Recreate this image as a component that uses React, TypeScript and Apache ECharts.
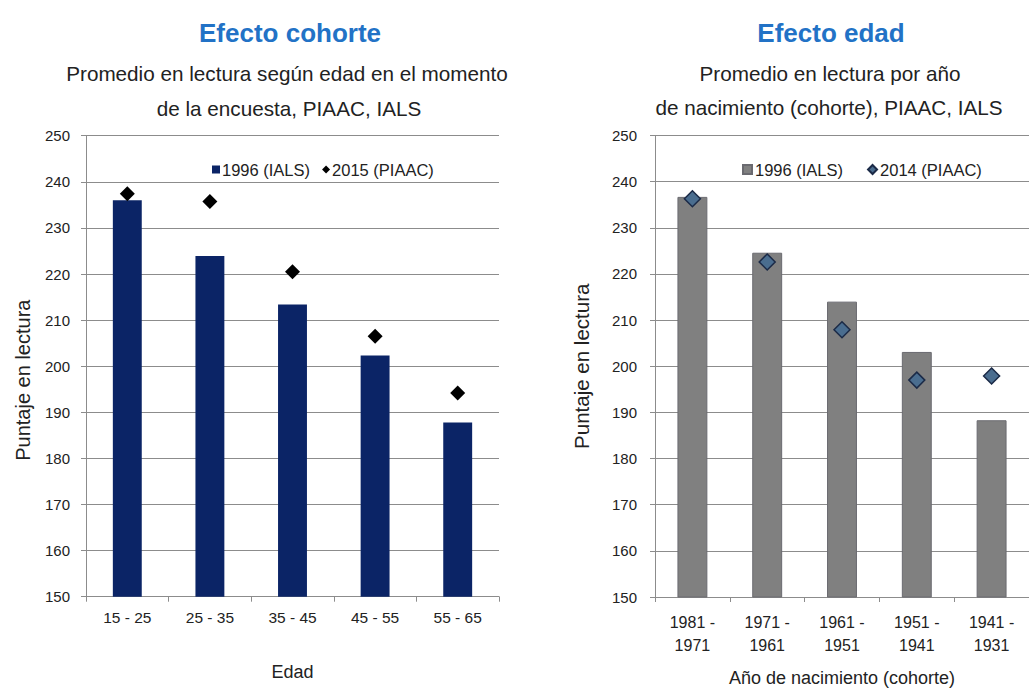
import React, { useEffect, useRef } from "react";
import * as echarts from "echarts";

// ---- Data ----
const ageGroups = ["15 - 25", "25 - 35", "35 - 45", "45 - 55", "55 - 65"];
const cohortIals1996 = [236.0, 223.9, 213.4, 202.3, 187.8];
const cohortPiaac2015 = [237.4, 235.7, 220.5, 206.5, 194.2];

const birthCohorts = ["1981 -\n1971", "1971 -\n1961", "1961 -\n1951", "1951 -\n1941", "1941 -\n1931"];
const ageIals1996 = [236.7, 224.6, 214.0, 203.1, 188.3];
const agePiaac2014 = [236.3, 222.6, 207.9, 197.0, 197.9];

const yTicksMin = 150;
const yTicksMax = 250;
const yTickStep = 10;

const FONT = "'Liberation Sans', Arial, sans-serif";

export default function App() {
  const ref = useRef<HTMLDivElement>(null);

  useEffect(() => {
    document.body.style.margin = "0";
    const chart = echarts.init(ref.current!, null, { renderer: "svg" });
    const gridColor = "#8c8c8c";
    const axisLabel = { color: "#222", fontSize: 15, fontFamily: FONT };
    const commonY = {
      type: "value",
      min: yTicksMin,
      max: yTicksMax,
      interval: yTickStep,
      nameLocation: "middle",
      axisLine: { show: true, lineStyle: { color: gridColor, width: 1 } },
      axisTick: { show: true, length: 5, lineStyle: { color: gridColor } },
      splitLine: { show: true, lineStyle: { color: gridColor, width: 1 } },
    };
    const titleBase = { padding: 0, textAlign: "center", textVerticalAlign: "middle" };
    const mainTitleStyle = { color: "#2272c6", fontSize: 26, fontWeight: "bold", fontFamily: FONT };
    const subStyle = { color: "#222", fontSize: 20.7, fontWeight: "normal", fontFamily: FONT };

    chart.setOption({
      animation: false,
      backgroundColor: "#ffffff",
      title: [
        { ...titleBase, text: "Efecto cohorte", left: 290, top: 33, textStyle: mainTitleStyle },
        { ...titleBase, text: "Promedio en lectura según edad en el momento", left: 287, top: 73, textStyle: subStyle },
        { ...titleBase, text: "de la encuesta, PIAAC, IALS", left: 289, top: 108, textStyle: subStyle },
        { ...titleBase, text: "Efecto edad", left: 831, top: 33, textStyle: mainTitleStyle },
        { ...titleBase, text: "Promedio en lectura por año", left: 830, top: 73, textStyle: subStyle },
        { ...titleBase, text: "de nacimiento (cohorte), PIAAC, IALS", left: 829, top: 107, textStyle: subStyle },
      ],
      legend: [
        {
          left: 207,
          top: 156,
          itemWidth: 8,
          itemHeight: 8,
          itemGap: 12,
          textStyle: { color: "#222", fontSize: 16.5, fontFamily: FONT, padding: [0, 0, 0, -3] },
          data: [
            { name: "1996 (IALS)", icon: "rect" },
            { name: "2015 (PIAAC)", icon: "diamond" },
          ],
        },
        {
          left: 737,
          top: 156,
          itemWidth: 9,
          itemHeight: 9,
          itemGap: 24,
          formatter: (n: string) => n.trim(),
          textStyle: { color: "#222", fontSize: 16.5, fontFamily: FONT, padding: [0, 0, 0, -2] },
          data: [
            { name: "1996 (IALS) ", icon: "rect" },
            { name: "2014 (PIAAC)", icon: "diamond" },
          ],
        },
      ],
      grid: [
        { left: 86, top: 135.7, width: 413, height: 461 },
        { left: 655, top: 135.5, width: 384, height: 463.5 },
      ],
      xAxis: [
        {
          type: "category",
          gridIndex: 0,
          data: ageGroups,
          name: "Edad",
          nameLocation: "middle",
          nameGap: 66,
          nameTextStyle: { color: "#222", fontSize: 18, fontFamily: FONT },
          axisLine: { lineStyle: { color: gridColor } },
          axisTick: { show: true, length: 5, lineStyle: { color: gridColor } },
          axisLabel: { ...axisLabel, fontSize: 15.5, margin: 13 },
        },
        {
          type: "category",
          gridIndex: 1,
          data: birthCohorts,
          name: "Año de nacimiento (cohorte)",
          nameLocation: "middle",
          nameGap: 72,
          nameTextStyle: { color: "#222", fontSize: 18, fontFamily: FONT },
          axisLine: { lineStyle: { color: gridColor } },
          axisTick: { show: true, length: 5, lineStyle: { color: gridColor } },
          axisLabel: { ...axisLabel, fontSize: 16, lineHeight: 23, margin: 14 },
        },
      ],
      yAxis: [
        {
          ...commonY,
          gridIndex: 0,
          name: "Puntaje en lectura",
          nameGap: 53,
          nameTextStyle: { color: "#222", fontSize: 20, fontFamily: FONT, padding: [0, 28, 0, 0] },
          axisLabel: { ...axisLabel, margin: 16 },
        },
        {
          ...commonY,
          gridIndex: 1,
          name: "Puntaje en lectura",
          nameGap: 63,
          nameTextStyle: { color: "#222", fontSize: 20.5, fontFamily: FONT },
          axisLabel: { ...axisLabel, margin: 18 },
        },
      ],
      series: [
        {
          name: "1996 (IALS)",
          type: "bar",
          xAxisIndex: 0,
          yAxisIndex: 0,
          data: cohortIals1996,
          barWidth: "35%",
          itemStyle: { color: "#0b2466" },
        },
        {
          name: "2015 (PIAAC)",
          type: "scatter",
          xAxisIndex: 0,
          yAxisIndex: 0,
          data: cohortPiaac2015,
          symbol: "diamond",
          symbolSize: 15,
          itemStyle: { color: "#000000", opacity: 1 },
        },
        {
          name: "1996 (IALS) ",
          type: "bar",
          xAxisIndex: 1,
          yAxisIndex: 1,
          data: ageIals1996,
          barWidth: "40%",
          itemStyle: { color: "#808080", borderColor: "#6a6a70", borderWidth: 1 },
        },
        {
          name: "2014 (PIAAC)",
          type: "scatter",
          xAxisIndex: 1,
          yAxisIndex: 1,
          data: agePiaac2014,
          symbol: "diamond",
          symbolSize: 16,
          itemStyle: { color: "#4a6d8f", borderColor: "#1b2a47", borderWidth: 1.5, opacity: 1 },
        },
      ],
    });
    return () => chart.dispose();
  }, []);

  return <div ref={ref} style={{ width: 1029, height: 692 }} />;
}
